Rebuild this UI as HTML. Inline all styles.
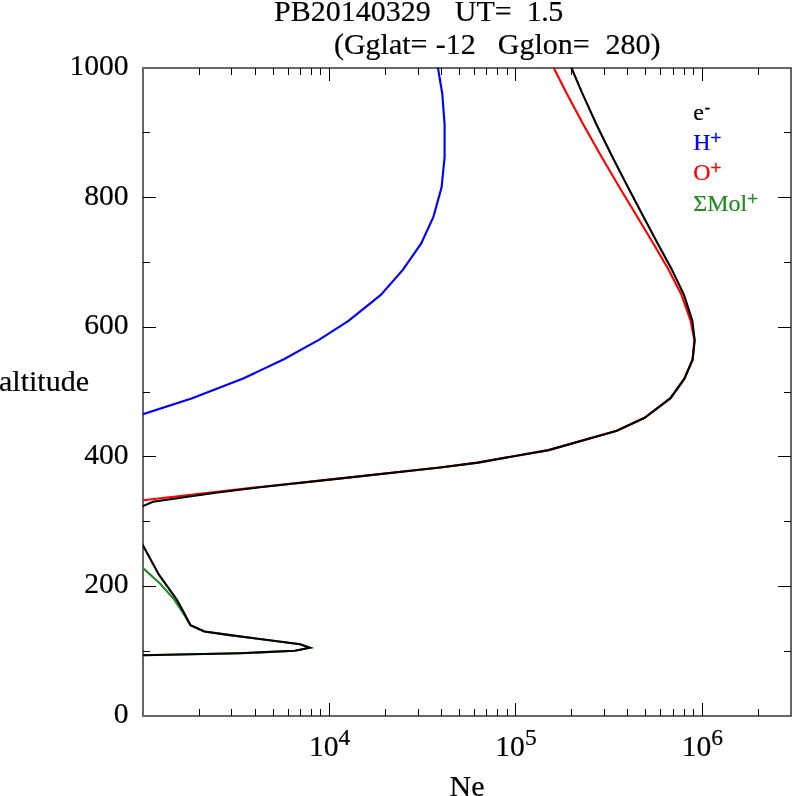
<!DOCTYPE html>
<html><head><meta charset="utf-8"><title>PB20140329 UT= 1.5</title>
<style>
html,body{margin:0;padding:0;background:#fff;}
svg{display:block;font-family:"Liberation Serif","Times New Roman",serif;}
</style></head><body>
<svg width="792" height="796" viewBox="0 0 792 796">
<rect width="792" height="796" fill="#fff"/>
<defs><clipPath id="pc"><rect x="143" y="67.5" width="648" height="648.5"/></clipPath></defs>
<g id="frame" fill="#666">
<rect x="142" y="67" width="650" height="2"/>
<rect x="142" y="715" width="650" height="2"/>
<rect x="142" y="67" width="2" height="650"/>
<rect x="790" y="67" width="2" height="650"/>
</g>
<g id="curves" clip-path="url(#pc)">
<polyline points="139.2,415.4 143.0,414.2 191.5,398.5 243.2,378.5 283.9,359.3 319.3,339.7 348.5,320.8 380.8,294.9 403.0,269.7 421.2,243.4 433.3,217.2 441.6,187.3 444.6,157.0 444.6,124.6 442.3,94.0 438.0,68.0 437.3,64.1" fill="none" stroke="#0000ff" stroke-width="2.15" stroke-linejoin="miter" stroke-miterlimit="6"/>
<polyline points="140.1,565.3 143.0,568.0 160.2,583.8 174.1,599.3 182.9,612.6 190.5,625.2 204.4,631.5 230.0,635.1 300.1,644.3 309.8,647.8 295.0,650.8 240.0,653.2 143.0,655.3 139.0,655.4" fill="none" stroke="#228b22" stroke-width="2.15" stroke-linejoin="miter" stroke-miterlimit="6"/>
<polyline points="139.0,500.8 143.0,500.3 260.0,487.0 341.0,478.4 440.0,467.5 477.9,462.6 548.6,450.1 616.8,430.8 644.6,417.8 670.5,398.2 684.4,378.7 692.6,359.7 694.4,340.2 690.6,320.7 681.5,294.8 668.2,268.9 653.0,243.0 637.4,217.0 619.4,187.2 601.5,156.8 583.6,125.0 566.2,92.6 553.8,68.0 552.0,64.4" fill="none" stroke="#ff0000" stroke-width="2.15" stroke-linejoin="miter" stroke-miterlimit="6"/>
<polyline points="139.3,507.7 143.0,506.1 152.9,501.8 215.8,492.7 260.0,487.3 341.0,478.4 440.0,467.5 477.9,462.6 548.6,450.1 616.8,430.8 644.6,417.8 670.5,398.2 684.4,378.7 692.6,359.7 694.7,340.2 692.3,320.7 684.0,294.8 671.5,268.9 657.4,243.0 643.6,217.0 628.0,187.2 612.3,156.8 596.7,125.0 582.0,92.6 571.5,68.0 569.9,64.3" fill="none" stroke="#000" stroke-width="2.15" stroke-linejoin="miter" stroke-miterlimit="6"/>
<polyline points="141.1,542.0 143.0,545.5 158.9,574.7 176.6,599.3 183.6,612.0 190.5,625.2 204.4,631.5 230.0,635.1 300.1,644.3 309.8,647.8 295.0,650.8 240.0,653.2 143.0,655.3 139.0,655.4" fill="none" stroke="#000" stroke-width="2.15" stroke-linejoin="miter" stroke-miterlimit="6"/>
</g>
<g id="ticks" fill="#000" shape-rendering="crispEdges">
<rect x="143" y="651" width="7" height="1"/>
<rect x="784" y="651" width="7" height="1"/>
<rect x="143" y="586" width="13" height="1"/>
<rect x="778" y="586" width="13" height="1"/>
<rect x="143" y="521" width="7" height="1"/>
<rect x="784" y="521" width="7" height="1"/>
<rect x="143" y="456" width="13" height="1"/>
<rect x="778" y="456" width="13" height="1"/>
<rect x="143" y="392" width="7" height="1"/>
<rect x="784" y="392" width="7" height="1"/>
<rect x="143" y="327" width="13" height="1"/>
<rect x="778" y="327" width="13" height="1"/>
<rect x="143" y="262" width="7" height="1"/>
<rect x="784" y="262" width="7" height="1"/>
<rect x="143" y="197" width="13" height="1"/>
<rect x="778" y="197" width="13" height="1"/>
<rect x="143" y="132" width="7" height="1"/>
<rect x="784" y="132" width="7" height="1"/>
<rect x="199" y="68" width="1" height="7"/>
<rect x="199" y="709" width="1" height="7"/>
<rect x="231" y="68" width="1" height="7"/>
<rect x="231" y="709" width="1" height="7"/>
<rect x="255" y="68" width="1" height="7"/>
<rect x="255" y="709" width="1" height="7"/>
<rect x="273" y="68" width="1" height="7"/>
<rect x="273" y="709" width="1" height="7"/>
<rect x="288" y="68" width="1" height="7"/>
<rect x="288" y="709" width="1" height="7"/>
<rect x="300" y="68" width="1" height="7"/>
<rect x="300" y="709" width="1" height="7"/>
<rect x="311" y="68" width="1" height="7"/>
<rect x="311" y="709" width="1" height="7"/>
<rect x="320" y="68" width="1" height="7"/>
<rect x="320" y="709" width="1" height="7"/>
<rect x="329" y="68" width="1" height="13"/>
<rect x="329" y="703" width="1" height="13"/>
<rect x="385" y="68" width="1" height="7"/>
<rect x="385" y="709" width="1" height="7"/>
<rect x="418" y="68" width="1" height="7"/>
<rect x="418" y="709" width="1" height="7"/>
<rect x="441" y="68" width="1" height="7"/>
<rect x="441" y="709" width="1" height="7"/>
<rect x="459" y="68" width="1" height="7"/>
<rect x="459" y="709" width="1" height="7"/>
<rect x="474" y="68" width="1" height="7"/>
<rect x="474" y="709" width="1" height="7"/>
<rect x="486" y="68" width="1" height="7"/>
<rect x="486" y="709" width="1" height="7"/>
<rect x="497" y="68" width="1" height="7"/>
<rect x="497" y="709" width="1" height="7"/>
<rect x="507" y="68" width="1" height="7"/>
<rect x="507" y="709" width="1" height="7"/>
<rect x="515" y="68" width="1" height="13"/>
<rect x="515" y="703" width="1" height="13"/>
<rect x="571" y="68" width="1" height="7"/>
<rect x="571" y="709" width="1" height="7"/>
<rect x="604" y="68" width="1" height="7"/>
<rect x="604" y="709" width="1" height="7"/>
<rect x="627" y="68" width="1" height="7"/>
<rect x="627" y="709" width="1" height="7"/>
<rect x="645" y="68" width="1" height="7"/>
<rect x="645" y="709" width="1" height="7"/>
<rect x="660" y="68" width="1" height="7"/>
<rect x="660" y="709" width="1" height="7"/>
<rect x="673" y="68" width="1" height="7"/>
<rect x="673" y="709" width="1" height="7"/>
<rect x="684" y="68" width="1" height="7"/>
<rect x="684" y="709" width="1" height="7"/>
<rect x="693" y="68" width="1" height="7"/>
<rect x="693" y="709" width="1" height="7"/>
<rect x="702" y="68" width="1" height="13"/>
<rect x="702" y="703" width="1" height="13"/>
<rect x="758" y="68" width="1" height="7"/>
<rect x="758" y="709" width="1" height="7"/>
</g>
<g id="labels" stroke="#000" stroke-width="0.2">
<text transform="translate(128.6,722.9) scale(1,1.0)" font-size="29.6" fill="#000" text-anchor="end">0</text>
<text transform="translate(128.6,593.3) scale(1,1.0)" font-size="29.6" fill="#000" text-anchor="end">200</text>
<text transform="translate(128.6,463.7) scale(1,1.0)" font-size="29.6" fill="#000" text-anchor="end">400</text>
<text transform="translate(128.6,334.1) scale(1,1.0)" font-size="29.6" fill="#000" text-anchor="end">600</text>
<text transform="translate(128.6,204.5) scale(1,1.0)" font-size="29.6" fill="#000" text-anchor="end">800</text>
<text transform="translate(128.6,74.9) scale(1,1.0)" font-size="29.6" fill="#000" text-anchor="end">1000</text>
<text transform="translate(309.0,755.9) scale(1,1.0)" font-size="29.6">10<tspan dy="-10.9" font-size="23.5">4</tspan></text>
<text transform="translate(495.3,755.9) scale(1,1.0)" font-size="29.6">10<tspan dy="-10.9" font-size="23.5">5</tspan></text>
<text transform="translate(681.7,755.9) scale(1,1.0)" font-size="29.6">10<tspan dy="-10.9" font-size="23.5">6</tspan></text>
<text transform="translate(467.0,795.6) scale(1,1.0)" font-size="30" fill="#000" text-anchor="middle">Ne</text>
<text transform="translate(-1.0,391.2) scale(1,1.0)" font-size="30" fill="#000" text-anchor="start">altitude</text>
<text transform="translate(274.1,20.5) scale(1,1.0)" font-size="30" fill="#000" text-anchor="start">PB20140329</text>
<text transform="translate(454.8,20.5) scale(1,1.0)" font-size="30" fill="#000" text-anchor="start">UT=</text>
<text transform="translate(526.7,20.5) scale(1,1.0)" font-size="30" fill="#000" text-anchor="start" letter-spacing="-0.5">1.5</text>
<text transform="translate(333.9,53.5) scale(1,1.0)" font-size="30" fill="#000" text-anchor="start">(Gglat=</text>
<text transform="translate(435.8,53.5) scale(1,1.0)" font-size="30" fill="#000" text-anchor="start">-12</text>
<text transform="translate(497.8,53.5) scale(1,1.0)" font-size="30" fill="#000" text-anchor="start">Gglon=</text>
<text transform="translate(605.5,53.5) scale(1,1.0)" font-size="30" fill="#000" text-anchor="start">280)</text>
<text x="693.2" y="120.0" font-size="24" fill="#000" stroke="#000">e<tspan dx="1.0" dy="-8.4" font-size="15.5" stroke-width="0.5">-</tspan></text>
<text x="693.2" y="149.8" font-size="24" fill="#0000ff" stroke="#0000ff">H<tspan dx="0.0" dy="-6.0" font-size="19" stroke-width="0.5">+</tspan></text>
<text x="693.2" y="180.0" font-size="24" fill="#ff0000" stroke="#ff0000">O<tspan dx="0.0" dy="-6.0" font-size="19" stroke-width="0.5">+</tspan></text>
<text x="693.2" y="210.5" font-size="24" fill="#228b22" stroke="#228b22">ΣMol<tspan dx="0.0" dy="-6.0" font-size="19" stroke-width="0.5">+</tspan></text>
</g>
</svg>
</body></html>
